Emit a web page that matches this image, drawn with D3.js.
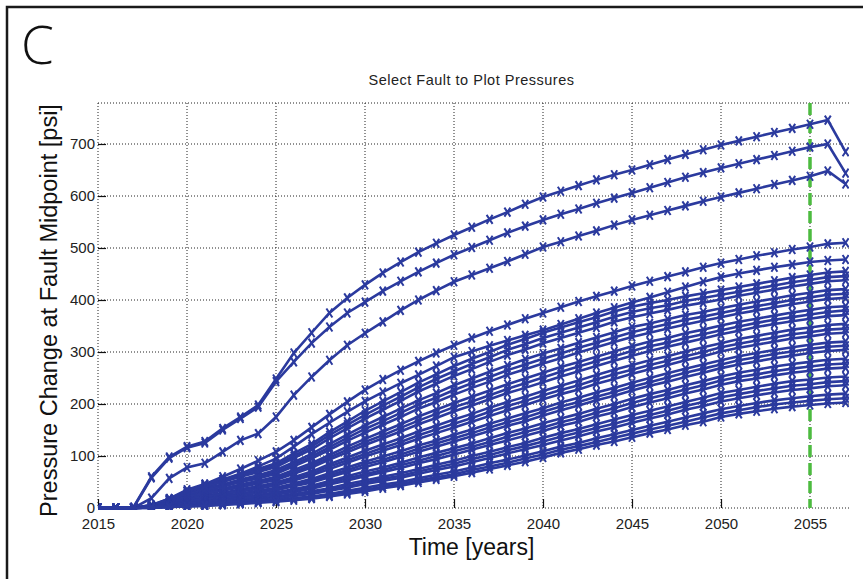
<!DOCTYPE html>
<html>
<head>
<meta charset="utf-8">
<script src="https://cdn.jsdelivr.net/npm/d3@7"></script>
<style>
  body { margin: 0; background: #fff; }
  svg { display: block; }
</style>
</head>
<body>
<svg id="chart" width="863" height="579"></svg>
<script>
// years on the x axis, one marker per year
var years = d3.range(2015, 2058);
var xTicks = [2015, 2020, 2025, 2030, 2035, 2040, 2045, 2050, 2055];
var yTicks = [0, 100, 200, 300, 400, 500, 600, 700];
var markerYear = 2055;

// three shallow faults (top curves)
var fault1 = [0,0,2,60,98,118,128,153,175,198,248,298,337,375,404,429,452,473,492,509,525,540,555,569,584,598,609,620,631,641,650,660,670,680,689,698,706,714,722,730,738,746,685];
var fault2 = [0,0,1,58,96,116,125,150,172,194,243,281,317,348,375,396,417,436,454,471,487,501,515,529,542,554,565,575,586,596,606,616,626,636,645,654,662,670,678,686,694,700,644];
var fault3 = [0,0,0,19,57,78,86,108,130,143,175,217,252,284,313,336,358,380,400,418,435,448,461,474,488,502,512,523,533,544,554,563,572,581,590,598,606,614,622,630,638,648,623];
var fault4 = [0,0,0,6,18,32,46,60,75,91,108,130,155,180,204,227,247,265,282,298,313,327,340,352,364,375,386,397,407,417,427,436,445,454,463,471,478,485,491,497,502,508,510];
var fault5 = [0,0,0,5,15,27,39,52,66,80,95,118,142,164,185,205,223,240,256,273,290,301,312,322,332,342,353,364,375,385,395,405,415,425,435,444,451,457,463,468,473,476,478];

// the deeper faults (dense bundle)
var bundle = [
  [0,0,0,5,18,35,46,55,66,75,86,105,123,146,166,187,205,223,241,257,273,287,300,314,325,337,347,357,367,378,387,394,400,407,413,419,425,431,437,443,448,453,455],
  [0,0,0,4,17,33,43,52,63,72,82,100,118,140,160,179,197,214,232,248,263,277,290,304,315,327,337,347,357,368,377,384,390,398,404,410,416,422,428,434,439,444,446],
  [0,0,0,4,17,32,41,50,60,69,79,96,113,134,153,172,189,206,224,239,254,267,281,294,305,317,327,337,347,358,367,374,381,389,395,401,408,414,420,426,431,436,438],
  [0,0,0,4,15,29,38,45,55,63,73,88,104,123,141,159,175,191,207,221,236,249,262,274,286,297,307,318,328,338,348,355,363,371,377,384,391,397,403,409,414,419,421],
  [0,0,0,3,14,27,36,43,52,60,69,84,99,117,135,152,167,183,199,212,227,240,252,265,276,287,297,308,318,328,338,346,354,362,368,375,382,388,394,400,405,410,412],
  [0,0,0,3,14,26,34,41,50,57,66,80,95,112,129,145,160,175,191,204,218,231,243,256,267,278,288,299,309,319,329,337,345,353,360,367,374,380,386,392,397,402,404],
  [0,0,0,3,12,23,31,37,45,52,60,73,86,102,118,133,147,161,176,189,202,214,226,238,249,260,271,281,291,301,311,320,327,336,343,351,358,364,370,376,381,386,388],
  [0,0,0,3,11,22,29,35,42,49,57,69,82,97,112,127,140,154,168,181,194,205,217,229,240,251,262,272,282,292,302,311,318,327,334,342,349,356,362,367,372,377,380],
  [0,0,0,3,11,21,27,33,40,47,54,66,78,93,107,121,134,147,161,173,186,197,209,221,231,242,253,263,273,283,293,302,310,318,326,334,341,348,354,359,364,369,371],
  [0,0,0,2,10,18,24,29,36,42,49,59,70,84,97,110,122,134,147,158,170,181,193,204,214,225,235,245,256,266,275,284,292,301,309,317,325,331,337,343,347,352,354],
  [0,0,0,2,9,17,22,27,34,39,46,56,66,80,92,104,116,127,140,151,162,173,185,196,206,217,227,236,247,257,266,275,283,292,300,309,316,322,328,334,338,343,345],
  [0,0,0,2,8,16,21,26,32,37,44,53,63,75,87,99,110,121,133,144,155,166,177,188,198,209,219,228,239,248,258,267,275,284,292,301,308,314,320,326,330,335,337],
  [0,0,0,2,7,14,18,23,28,33,39,47,56,67,78,89,99,109,120,130,141,151,162,172,182,192,203,212,222,231,241,250,259,268,276,284,292,298,304,309,314,318,320],
  [0,0,0,2,6,13,17,21,26,31,36,44,52,63,73,84,93,103,114,124,134,144,155,165,174,185,195,204,214,223,233,242,251,260,268,276,284,290,296,301,306,310,312],
  [0,0,0,2,6,12,16,20,24,29,34,42,49,59,69,79,88,98,108,118,128,138,148,158,167,178,188,197,207,216,226,235,243,252,260,269,276,282,288,293,298,302,304],
  [0,0,0,1,5,10,13,17,21,25,30,36,43,52,61,70,78,87,97,106,115,124,134,144,153,163,172,181,191,200,210,219,227,236,244,253,260,266,272,277,281,285,287],
  [0,0,0,1,4,9,12,15,19,23,28,33,40,48,57,65,73,82,91,100,109,118,127,137,146,155,165,173,183,192,202,211,219,228,236,245,252,257,263,268,272,276,278],
  [0,0,0,1,4,9,11,14,18,21,26,31,37,45,53,61,69,77,86,94,103,112,121,130,139,148,158,166,176,184,194,203,211,220,228,237,244,249,255,260,264,268,270],
  [0,0,0,1,4,7,9,12,15,18,22,27,32,38,46,53,60,67,75,83,91,100,108,117,125,135,144,152,161,170,179,187,195,204,212,221,227,233,239,244,247,251,253],
  [0,0,0,1,3,6,8,11,13,16,20,25,29,35,42,49,56,62,70,78,85,94,102,111,119,128,137,145,154,162,171,179,187,196,204,213,219,225,230,235,238,242,244],
  [0,0,0,1,3,5,7,10,12,15,18,23,27,33,39,46,52,58,66,73,80,88,96,105,113,121,130,138,147,155,164,172,180,189,196,205,211,217,222,227,230,234,236],
  [0,0,0,1,2,4,6,8,10,12,15,19,22,27,33,39,45,50,57,64,70,78,86,93,101,109,118,125,134,142,150,158,166,174,182,190,196,202,207,211,215,218,220],
  [0,0,0,0,2,3,5,7,9,11,13,17,20,24,30,35,41,46,53,59,65,73,80,87,95,103,112,119,127,135,143,151,158,166,174,182,188,194,199,203,206,209,211],
  [0,0,0,0,2,3,4,6,8,10,12,15,18,22,27,32,38,43,49,55,61,68,75,82,89,97,106,113,121,128,136,144,151,159,166,175,181,186,191,195,198,201,203]
];

var series = [fault1, fault2, fault3, fault4, fault5].concat(bundle);

var margin = {left: 98, top: 103, right: 14, bottom: 71};
var width = 863 - margin.left - margin.right;
var height = 579 - margin.top - margin.bottom;
var blue = "#2b3a9e";
var font = "'Liberation Sans', Arial, sans-serif";

var svg = d3.select("#chart");

// outer panel frame
svg.append("rect")
  .attr("x", 7).attr("y", 7)
  .attr("width", 880).attr("height", 600)
  .style("fill", "none").style("stroke", "#1a1a1a").style("stroke-width", 2.5);

svg.append("text")
  .attr("x", 21).attr("y", 64)
  .style("font-family", "'Open Sans', sans-serif")
  .style("font-weight", 300)
  .style("font-size", "53px")
  .style("fill", "#111")
  .text("C");

var x = d3.scaleLinear().domain([2015, 2015 + width / 17.8]).range([0, width]);
var y = d3.scaleLinear().domain([0, height / 0.52]).range([height, 0]);

var g = svg.append("g").attr("transform", "translate(" + margin.left + "," + margin.top + ")");

g.append("clipPath").attr("id", "plotclip")
  .append("rect").attr("x", 0).attr("y", -2).attr("width", width).attr("height", height + 4);

// dotted grid and frame
var grid = g.append("g").style("stroke", "#222").style("stroke-width", 1).style("stroke-dasharray", "1,2");
xTicks.forEach(function(t) {
  grid.append("line").attr("x1", x(t)).attr("x2", x(t)).attr("y1", 0).attr("y2", height);
});
yTicks.forEach(function(t) {
  grid.append("line").attr("x1", 0).attr("x2", width).attr("y1", y(t)).attr("y2", y(t));
});
grid.append("line").attr("x1", 0).attr("x2", width).attr("y1", 0).attr("y2", 0);

// axes (ticks inward, no domain line)
var xAxis = g.append("g").attr("transform", "translate(0," + height + ")")
  .call(d3.axisBottom(x).tickValues(xTicks).tickFormat(d3.format("d")).tickSizeInner(-9).tickSizeOuter(0));
var yAxis = g.append("g")
  .call(d3.axisLeft(y).tickValues(yTicks).tickSizeInner(-8).tickSizeOuter(0));
[xAxis, yAxis].forEach(function(a) {
  a.select(".domain").remove();
  a.selectAll("line").style("stroke", "#111").style("stroke-width", 1.2);
  a.selectAll("text")
    .style("font-family", font)
    .style("font-size", "15px")
    .style("fill", "#222");
});
xAxis.selectAll("text").attr("y", 10).attr("dy", "0.71em");
yAxis.selectAll("text").attr("x", -3).attr("dy", "0.3em");

// green dashed marker year
g.append("line")
  .attr("x1", x(markerYear)).attr("x2", x(markerYear))
  .attr("y1", 0).attr("y2", height)
  .style("stroke", "#4cbb3f").style("stroke-width", 3.5).style("stroke-dasharray", "12,6");

var plot = g.append("g").attr("clip-path", "url(#plotclip)");
var line = d3.line().x(function(d, i) { return x(years[i]); }).y(function(d) { return y(d); });

series.forEach(function(s) {
  plot.append("path").datum(s)
    .attr("d", line)
    .style("fill", "none").style("stroke", blue).style("stroke-width", 2.6);
  plot.selectAll(null).data(s).enter().append("path")
    .attr("transform", function(d, i) { return "translate(" + x(years[i]) + "," + y(d) + ")"; })
    .attr("d", "M-3,-4.5L3,4.5M-3,4.5L3,-4.5")
    .style("stroke", blue).style("stroke-width", 2);
});

// titles
g.append("text")
  .attr("x", width / 2 - 2).attr("y", -18)
  .attr("text-anchor", "middle")
  .style("font-family", font)
  .style("font-size", "14.5px").style("letter-spacing", "0.5px").style("fill", "#222")
  .text("Select Fault to Plot Pressures");

g.append("text")
  .attr("x", width / 2 - 2).attr("y", height + 47)
  .attr("text-anchor", "middle")
  .style("font-family", font)
  .style("font-size", "23px").style("fill", "#111")
  .text("Time [years]");

g.append("text")
  .attr("transform", "translate(" + (-41) + "," + (height / 2 + 5) + ")rotate(-90)")
  .attr("text-anchor", "middle")
  .style("font-family", font)
  .style("font-size", "23.5px").style("fill", "#111")
  .text("Pressure Change at Fault Midpoint [psi]");
</script>
</body>
</html>
